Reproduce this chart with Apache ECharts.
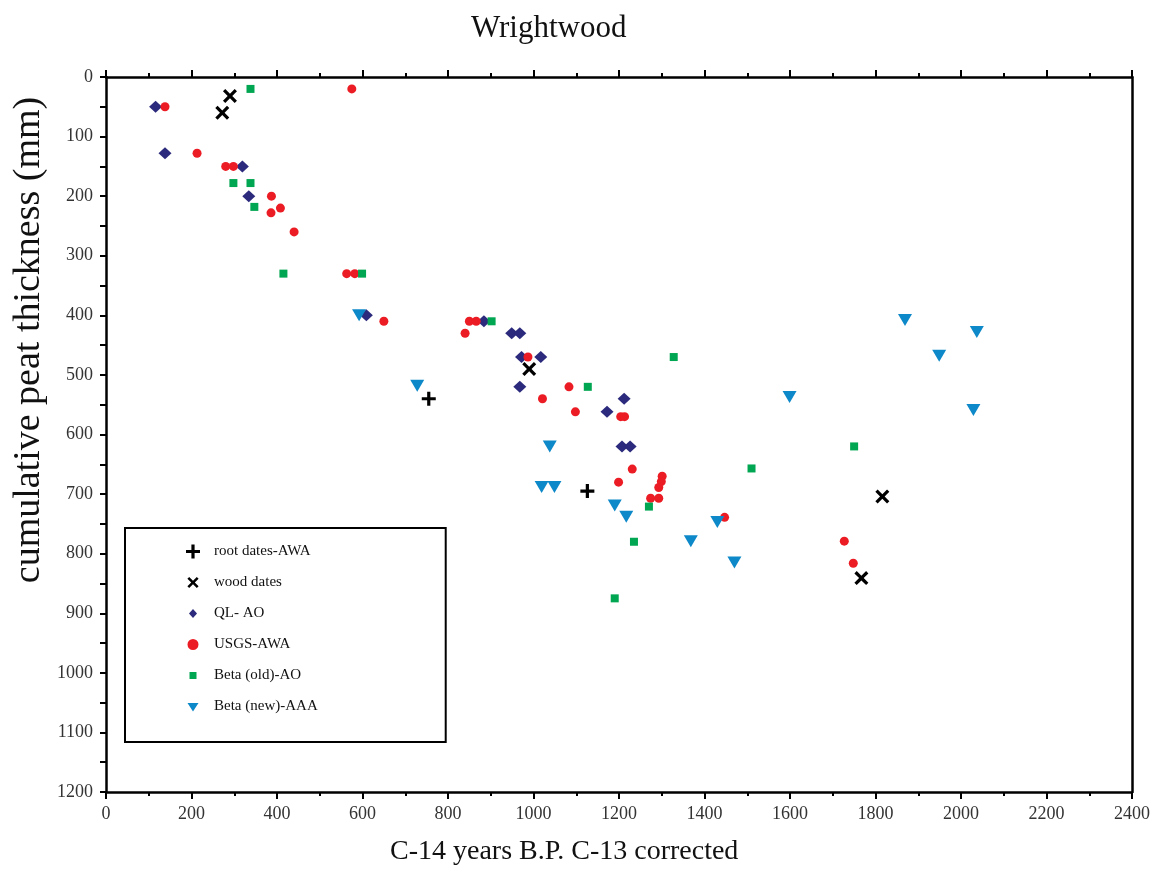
<!DOCTYPE html>
<html>
<head>
<meta charset="utf-8">
<script src="https://cdn.jsdelivr.net/npm/echarts@6/dist/echarts.min.js"></script>
<style>html,body{margin:0;padding:0;background:#fff}#c{width:1153px;height:873px}</style>
</head>
<body>
<div id="c"></div>
<script>
// ---- data (x: C-14 years B.P., y: cumulative peat thickness mm) ----
var rootDates = [[755,540],[1126,695]];
var woodDates = [[290,32],[272,60],[990,490],[1816,704],[1767,841]];
var qlAO = [[116,50],[138,128],[319,150],[334,200],[609,400],[884,410],[949,430],[968,430],
  [972,470],[1017,470],[968,520],[1212,540],[1172,562],[1207,620],[1226,620]];
var usgsAWA = [[575,20],[138,50],[213,128],[280,150],[298,150],[387,200],[408,220],[386,228],
  [440,260],[563,330],[582,330],[650,410],[850,410],[866,410],[840,430],[987,470],[1083,520],
  [1021,540],[1098,562],[1204,570],[1213,570],[1231,658],[1301,670],[1299,679],[1293,689],
  [1199,680],[1274,707],[1293,707],[1447,739],[1727,779],[1748,816]];
var betaOld = [[338,20],[298,178],[338,178],[347,218],[415,330],[599,330],[902,410],[1328,470],
  [1127,520],[1750,620],[1510,657],[1270,721],[1235,780],[1190,875]];
var betaNew = [[592,400],[728,518],[1038,620],[1019,688],[1049,688],[1190,719],[1217,738],
  [1430,747],[1368,779],[1470,815],[1599,537],[1869,408],[1949,468],[2029,559],[2037,428]];
var seriesNames = ['root dates-AWA','wood dates','QL- AO','USGS-AWA','Beta (old)-AO','Beta (new)-AAA'];
var xTicks = {min:0, max:2400, interval:200};
var yTicks = {min:0, max:1200, interval:100};

var FONT = "'Liberation Serif','Times New Roman',serif";
var plusPath = 'path://M-1.6,-7H1.6V-1.6H7V1.6H1.6V7H-1.6V1.6H-7V-1.6H-1.6Z';
var crossPath = 'path://M-7,-4.7L-4.7,-7L0,-2.3L4.7,-7L7,-4.7L2.3,0L7,4.7L4.7,7L0,2.3L-4.7,7L-7,4.7L-2.3,0Z';
var triDownPath = 'path://M-7,-6H7L0,6Z';
// legend icons (padded bounding box so they render smaller, as in the original key)
var legendIcons = [
  plusPath,
  'path://M-7,-7M7,7M-5.6,-3.8L-3.8,-5.6L0,-1.8L3.8,-5.6L5.6,-3.8L1.8,0L5.6,3.8L3.8,5.6L0,1.8L-3.8,5.6L-5.6,3.8L-1.8,0Z',
  'path://M-7,-7M7,7M0,-4.5L4,0L0,4.5L-4,0Z',
  'path://M-7,-7M7,7M0,-5.5A5.5,5.5,0,1,1,-0.01,-5.5Z',
  'path://M-7,-7M7,7M-3.5,-3.5H3.5V3.5H-3.5Z',
  'path://M-7,-7M7,7M-5.5,-3.5H5.5L0,5Z'
];

var chart = echarts.init(document.getElementById('c'), null, {renderer:'canvas'});
var axisLabel = {fontFamily:FONT, fontSize:18, color:'#333', formatter:function(v){return String(v);}};
chart.setOption({
  animation:false,
  backgroundColor:'#fff',
  title:{text:'Wrightwood', left:466, top:8,
    textStyle:{fontFamily:FONT, fontSize:31, fontWeight:'normal', color:'#111'}},
  grid:{left:106, top:77, right:19, bottom:81, show:false},
  legend:{
    orient:'vertical', left:125, top:528,
    padding:[16,128,28,61], itemGap:16, itemWidth:14, itemHeight:14,
    borderColor:'#000', borderWidth:2, backgroundColor:'#fff',
    textStyle:{fontFamily:FONT, fontSize:15, color:'#111', padding:[0,0,0,9]},
    data:seriesNames.map(function(n,i){return {name:n, icon:legendIcons[i]};})
  },
  xAxis:[{
    type:'value', position:'bottom', min:xTicks.min, max:xTicks.max, interval:xTicks.interval,
    axisLine:{show:true, onZero:false, lineStyle:{color:'#000', width:2.5}},
    axisTick:{show:true, inside:false, length:7, lineStyle:{color:'#000', width:2}},
    minorTick:{show:true, splitNumber:2, length:4, lineStyle:{color:'#000', width:2}},
    splitLine:{show:false},
    axisLabel:Object.assign({margin:13}, axisLabel)
  },{
    type:'value', position:'top', min:xTicks.min, max:xTicks.max, interval:xTicks.interval,
    axisLine:{show:true, onZero:false, lineStyle:{color:'#000', width:2.5}},
    axisTick:{show:true, inside:false, length:7, lineStyle:{color:'#000', width:2}},
    minorTick:{show:true, splitNumber:2, length:4, lineStyle:{color:'#000', width:2}},
    splitLine:{show:false}, axisLabel:{show:false}
  }],
  yAxis:[{
    type:'value', position:'left', inverse:true, min:yTicks.min, max:yTicks.max, interval:yTicks.interval,
    axisLine:{show:true, onZero:false, lineStyle:{color:'#000', width:2.5}},
    axisTick:{show:true, inside:false, length:6, lineStyle:{color:'#000', width:2}},
    minorTick:{show:true, splitNumber:2, length:6, lineStyle:{color:'#000', width:2}},
    splitLine:{show:false},
    axisLabel:Object.assign({margin:13}, axisLabel)
  },{
    type:'value', position:'right', inverse:true, min:yTicks.min, max:yTicks.max, interval:yTicks.interval,
    axisLine:{show:true, onZero:false, lineStyle:{color:'#000', width:2.5}},
    axisTick:{show:false}, splitLine:{show:false}, axisLabel:{show:false}
  }],
  graphic:[
    {type:'text', left:390, top:838, style:{text:'C-14 years B.P. C-13 corrected', font:'28px '+FONT, fill:'#111'}},
    {type:'text', rotation:Math.PI/2, x:10, y:340, style:{text:'cumulative peat thickness (mm)', font:'38px '+FONT, fill:'#111', textAlign:'center', textVerticalAlign:'top'}}
  ],
  series:[
    {name:seriesNames[0], type:'scatter', data:rootDates, symbol:plusPath, symbolSize:14,
      itemStyle:{color:'#000', opacity:1}, z:6},
    {name:seriesNames[1], type:'scatter', data:woodDates, symbol:crossPath, symbolSize:14,
      itemStyle:{color:'#000', opacity:1}, z:6},
    {name:seriesNames[2], type:'scatter', data:qlAO, symbol:'diamond', symbolSize:[13,12],
      itemStyle:{color:'#2b2a7c', opacity:1}, z:3},
    {name:seriesNames[3], type:'scatter', data:usgsAWA, symbol:'circle', symbolSize:9,
      itemStyle:{color:'#ec1c24', opacity:1}, z:4},
    {name:seriesNames[4], type:'scatter', data:betaOld, symbol:'rect', symbolSize:8,
      itemStyle:{color:'#00a651', opacity:1}, z:5},
    {name:seriesNames[5], type:'scatter', data:betaNew, symbol:triDownPath, symbolSize:[14,12],
      itemStyle:{color:'#0d88c8', opacity:1}, z:4}
  ]
});
</script>
</body>
</html>
